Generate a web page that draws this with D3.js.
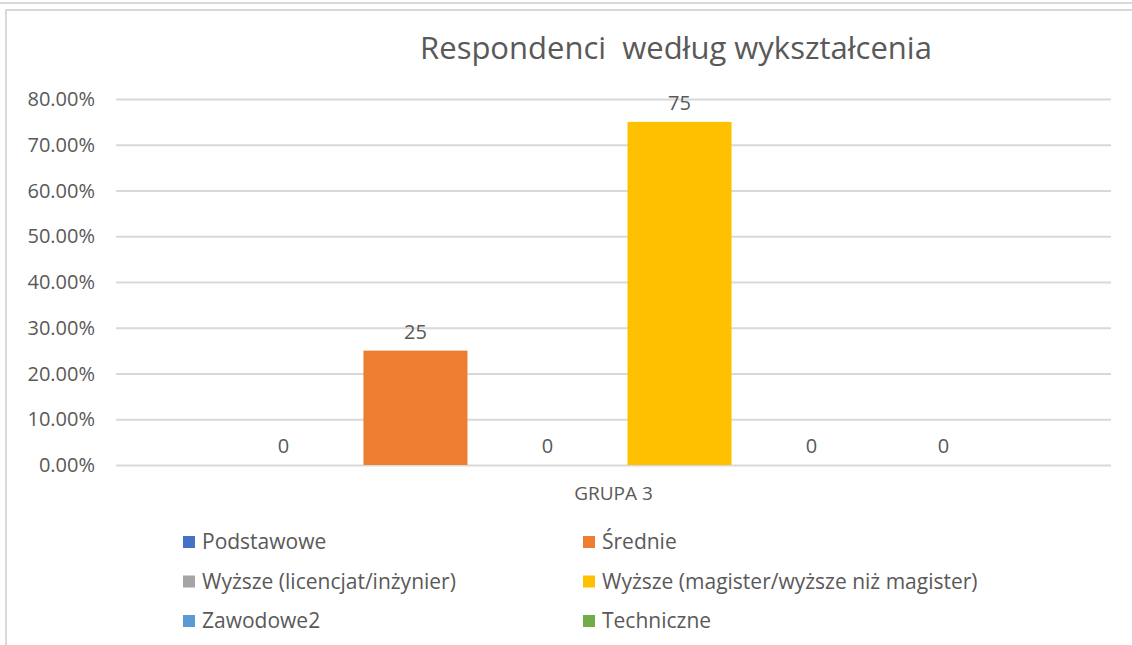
<!DOCTYPE html>
<meta charset="utf-8">
<script src="https://d3js.org/d3.v7.min.js"></script>
<style>
body{ margin:0; background:#fff; }
svg text{ font-family:"Open Sans", sans-serif; fill:#595959; }
.grid line{ stroke:#d9d9d9; stroke-width:2; }
.grid .domain{ display:none; }
</style>
<div id="chart"></div>
<script>
// data
const groups = ["GRUPA 3"];
const series = ["Podstawowe", "Średnie", "Wyższe (licencjat/inżynier)",
                "Wyższe (magister/wyższe niż magister)", "Zawodowe2", "Techniczne"];
const values = [0, 25, 0, 75, 0, 0];
const colors = ["#4472C4", "#ED7D31", "#A5A5A5", "#FFC000", "#5B9BD5", "#70AD47"];
const yTicks = [0, 10, 20, 30, 40, 50, 60, 70, 80];

const width = 1132, height = 645;
const margin = {top: 99, right: 21, bottom: 180, left: 116};

const svg = d3.select("#chart").append("svg")
  .attr("width", width).attr("height", height);

// outer frames
svg.append("line").attr("x1", 0).attr("x2", width).attr("y1", 3).attr("y2", 3)
  .attr("stroke", "#d9d9d9").attr("stroke-width", 2);
svg.append("path").attr("d", "M6," + height + "V10H" + width)
  .attr("fill", "none").attr("stroke", "#d9d9d9").attr("stroke-width", 2);

const y = d3.scaleLinear().domain([0, 80]).range([height - margin.bottom, margin.top]);

const x0 = d3.scaleBand().domain(groups)
  .range([margin.left, width - margin.right]).paddingInner(0).paddingOuter(0.128);
const x1 = d3.scaleBand().domain(series)
  .range([0, x0.bandwidth()]).paddingInner(0.212).paddingOuter(0.106);

// grid
svg.append("g").attr("class", "grid")
  .attr("transform", "translate(" + margin.left + ",0)")
  .call(d3.axisRight(y).tickValues(yTicks).tickSize(width - margin.right - margin.left).tickFormat(""));

// y labels
svg.append("g").selectAll("text").data(yTicks).join("text")
  .attr("x", 95).attr("y", d => y(d)).attr("dy", "0.35em")
  .attr("text-anchor", "end").attr("font-size", 20)
  .text(d => d.toFixed(2) + "%");

// title
svg.append("text").attr("x", 676).attr("y", 59).attr("text-anchor", "middle")
  .attr("font-size", 31).attr("xml:space", "preserve").text("Respondenci  według wykształcenia");

// bars
const g = svg.append("g").attr("transform", "translate(" + x0(groups[0]) + ",0)");
g.selectAll("rect").data(series).join("rect")
  .attr("x", d => x1(d)).attr("width", x1.bandwidth())
  .attr("y", (d, i) => y(values[i]))
  .attr("height", (d, i) => y(0) - y(values[i]))
  .attr("fill", (d, i) => colors[i]);

g.selectAll("text.lbl").data(series).join("text").attr("class", "lbl")
  .attr("x", d => x1(d) + x1.bandwidth() / 2)
  .attr("y", (d, i) => y(values[i]) - 12)
  .attr("text-anchor", "middle").attr("font-size", 20)
  .text((d, i) => values[i]);

// category label
svg.append("text").attr("x", x0(groups[0]) + x0.bandwidth() / 2).attr("y", 500)
  .attr("text-anchor", "middle").attr("font-size", 19).text(groups[0]);

// legend
const legend = svg.append("g").selectAll("g").data(series).join("g")
  .attr("transform", (d, i) => "translate(" + (i % 2 ? 583 : 183) + "," + (542 + Math.floor(i / 2) * 39.5) + ")");
legend.append("rect").attr("x", 0).attr("y", -6).attr("width", 12).attr("height", 12)
  .attr("fill", (d, i) => colors[i]);
legend.append("text").attr("x", 19).attr("dy", "0.35em").attr("font-size", 21)
  .text(d => d);
</script>
